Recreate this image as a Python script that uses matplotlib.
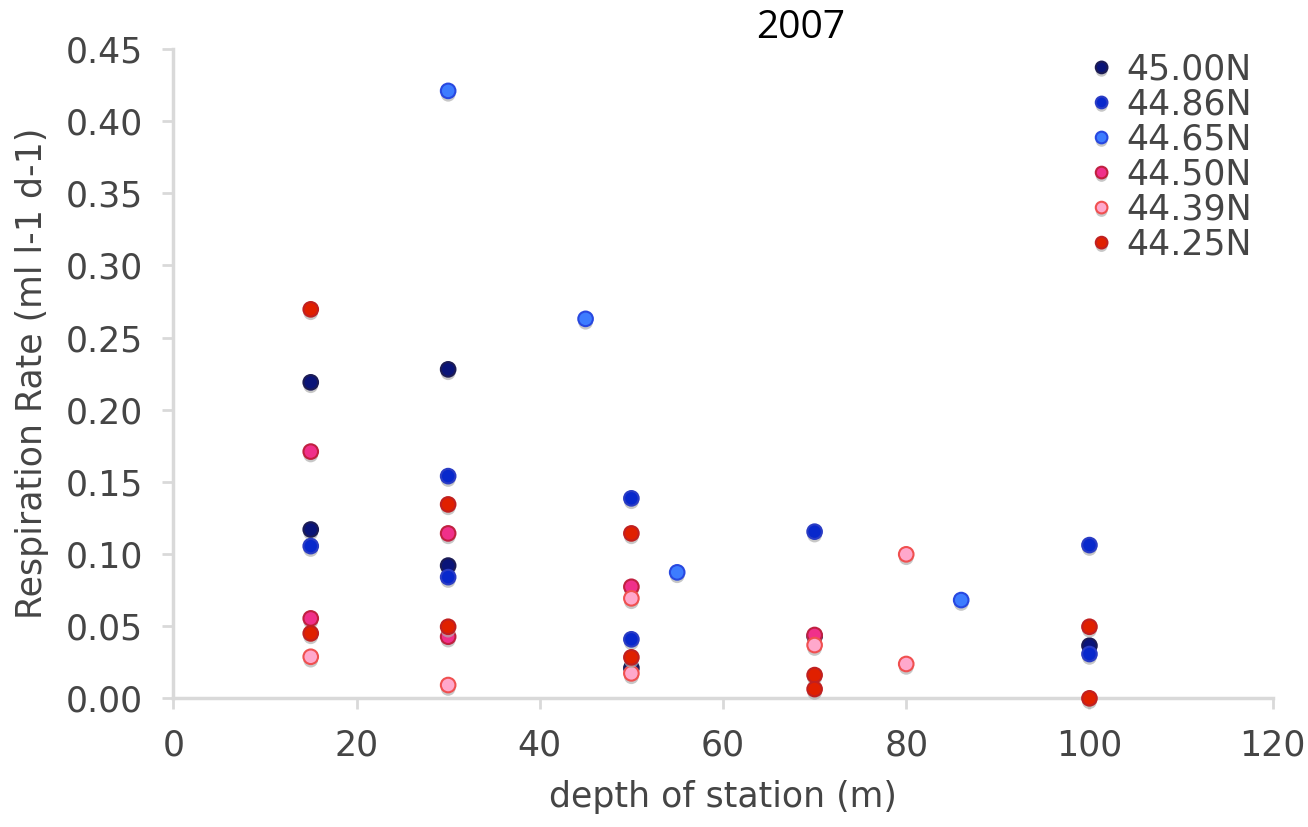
import matplotlib
matplotlib.use("Agg")
import matplotlib.pyplot as plt
import matplotlib.patheffects as pe

# station depth (m) and respiration rate (ml l-1 d-1) for each latitude line
depth_4500 = [15, 15, 30, 30, 50, 70, 100]
resp_4500 = [0.219, 0.117, 0.228, 0.092, 0.021, 0.043, 0.0365]

depth_4486 = [15, 30, 30, 50, 50, 70, 100, 100]
resp_4486 = [0.1055, 0.154, 0.084, 0.1386, 0.0409, 0.1155, 0.1062, 0.0307]

depth_4465 = [30, 45, 55, 86]
resp_4465 = [0.421, 0.263, 0.0873, 0.0681]

depth_4450 = [15, 15, 30, 30, 50, 70]
resp_4450 = [0.171, 0.0554, 0.1143, 0.0427, 0.0773, 0.0439]

depth_4439 = [15, 30, 50, 50, 70, 80, 80]
resp_4439 = [0.0288, 0.0092, 0.0693, 0.0173, 0.0369, 0.0998, 0.0238]

depth_4425 = [15, 15, 30, 30, 50, 50, 70, 70, 100, 100]
resp_4425 = [0.2696, 0.045, 0.1344, 0.0496, 0.1143, 0.0284, 0.0161, 0.0064, 0.0496, 0.0]

series = [
    ("45.00N", depth_4500, resp_4500, "#0a1478", "#1c1c55"),
    ("44.86N", depth_4486, resp_4486, "#0828cc", "#2a3cc4"),
    ("44.65N", depth_4465, resp_4465, "#3d7cff", "#2848e0"),
    ("44.50N", depth_4450, resp_4450, "#f0308a", "#c02040"),
    ("44.39N", depth_4439, resp_4439, "#ffa8cc", "#f05050"),
    ("44.25N", depth_4425, resp_4425, "#e02000", "#c02020"),
]

x_ticks = [0, 20, 40, 60, 80, 100, 120]
y_ticks = [0.00, 0.05, 0.10, 0.15, 0.20, 0.25, 0.30, 0.35, 0.40, 0.45]

txt = "#454545"
grey = "#d9d9d9"
fs = 25

fig = plt.figure(figsize=(13.08, 8.27), dpi=100)
ax = fig.add_axes([0.1325, 0.1556, 0.8405, 0.7851])

shadow = [pe.SimplePatchShadow(offset=(0, -2.5), shadow_rgbFace="#b0b0b0", alpha=0.7),
          pe.Normal()]

for name, xs, ys, face, edge in series:
    ax.plot(xs, ys, linestyle="none", marker="o", markersize=10.5,
            markerfacecolor=face, markeredgecolor=edge, markeredgewidth=1.5,
            label=name, path_effects=shadow, clip_on=False, zorder=3)

ax.set_xlim(0, 120)
ax.set_ylim(0, 0.45)
ax.set_xticks(x_ticks)
ax.set_yticks(y_ticks)
ax.set_xticklabels([str(v) for v in x_ticks])
ax.set_yticklabels(["%.2f" % v for v in y_ticks])

for s in ["top", "right"]:
    ax.spines[s].set_visible(False)
for s in ["left", "bottom"]:
    ax.spines[s].set_color(grey)
    ax.spines[s].set_linewidth(2.5)

ax.tick_params(axis="both", colors=grey, labelcolor=txt, labelsize=fs,
               width=2, length=8, direction="out")
ax.tick_params(axis="y", pad=14)
ax.tick_params(axis="x", pad=14)

ax.set_xlabel("depth of station (m)", fontsize=fs, color=txt, labelpad=12)
ax.set_ylabel("Respiration Rate (ml l-1 d-1)", fontsize=fs, color=txt, labelpad=12)

fig.text(0.612, 0.966, "2007", fontsize=28, family="Open Sans",
         ha="center", va="center", color="black")

leg = ax.legend(loc="upper right", bbox_to_anchor=(1.003, 1.032), frameon=False,
                fontsize=fs, labelspacing=0.03, handletextpad=0.2,
                handlelength=1.0, markerscale=0.8, borderpad=0.2)
for t in leg.get_texts():
    t.set_color(txt)

fig.savefig("out.png", dpi=100, facecolor="white")
